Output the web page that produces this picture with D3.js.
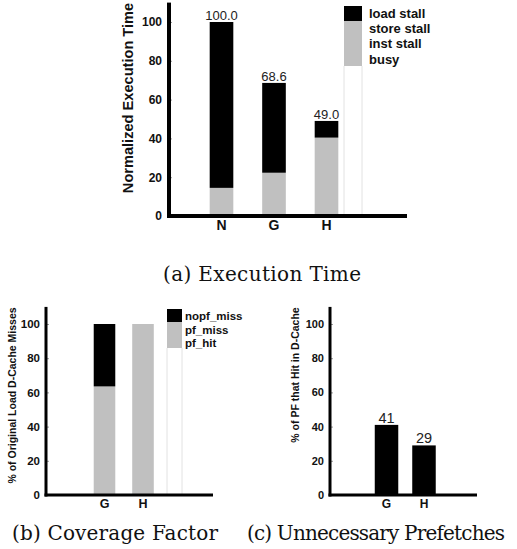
<!DOCTYPE html>
<html lang="en">
<head>
<meta charset="UTF-8">
<title>Execution Time / Coverage / Unnecessary Prefetches</title>
<script src="https://d3js.org/d3.v7.min.js"></script>
<style>
    body { margin: 0; background: #fff; }
    svg { display: block; font-family: "Liberation Sans", Arial, sans-serif; }
    .caption { font-family: "DejaVu Serif", "Liberation Serif", serif; fill: #111; }
</style>
</head>
<body>
<svg id="fig" width="517" height="549"></svg>
<script>
// (a) execution time, normalized
const execCats = ["N", "G", "H"];
const execOther = [14.5, 22.3, 40.4];   // gray part (store + inst + busy)
const execLoad = [85.5, 46.3, 8.6];     // load stall (black)
const execLegend = ["load stall", "store stall", "inst stall", "busy"];

// (b) coverage factor
const covCats = ["G", "H"];
const covHit = [63.5, 100];
const covMiss = [0, 0];
const covNopf = [36.5, 0];
const covLegend = ["nopf_miss", "pf_miss", "pf_hit"];

// (c) unnecessary prefetches
const unnCats = ["G", "H"];
const unnVals = [41, 29];

const yTicks = [0, 20, 40, 60, 80, 100];
const GRAY = "#c0c0c0";

const svg = d3.select("#fig");

function axes(y, x0, x1, tickFont, lineW) {
    const g = svg.append("g").attr("transform", `translate(${x0},0)`);
    g.call(d3.axisLeft(y).tickValues(yTicks).tickSize(-3).tickPadding(lineW + 3))
        .attr("font-family", null)
        .call(a => a.select(".domain").remove())
        .call(a => a.selectAll(".tick line").attr("stroke", "#999"))
        .call(a => a.selectAll(".tick text")
            .style("font-size", tickFont + "px")
            .style("font-weight", "bold")
            .attr("fill", "#111"));
    svg.append("line")
        .attr("x1", x0).attr("x2", x0)
        .attr("y1", y(110)).attr("y2", y(0) + lineW / 2)
        .attr("stroke", "#000").attr("stroke-width", lineW);
    svg.append("line")
        .attr("x1", x0 - lineW / 2).attr("x2", x1)
        .attr("y1", y(0)).attr("y2", y(0))
        .attr("stroke", "#000").attr("stroke-width", lineW);
}

function yTitle(text, cx, cy, size) {
    svg.append("text")
        .attr("transform", `translate(${cx},${cy}) rotate(-90)`)
        .attr("text-anchor", "middle")
        .attr("dominant-baseline", "central")
        .style("font-size", size + "px")
        .style("font-weight", "bold")
        .attr("fill", "#111")
        .text(text);
}

function xLabels(x, cats, y0, size) {
    svg.append("g").selectAll("text")
        .data(cats).join("text")
        .attr("x", d => x(d) + x.bandwidth() / 2)
        .attr("y", y0)
        .attr("text-anchor", "middle")
        .style("font-size", size + "px")
        .style("font-weight", "bold")
        .attr("fill", "#111")
        .text(d => d);
}

function caption(text, x0, x1, yb) {
    svg.append("text").attr("class", "caption")
        .attr("x", x0).attr("y", yb)
        .attr("textLength", x1 - x0).attr("lengthAdjust", "spacing")
        .style("font-size", "20px").text(text);
}

// legend column: stacked swatches, white one runs to baseline
function legendColumn(x0, w, blocks, yBase, labels, lx, ly, step, size) {
    blocks.forEach(b => {
        svg.append("rect")
            .attr("x", x0).attr("y", b.y).attr("width", w)
            .attr("height", b.h).attr("fill", b.c);
    });
    const last = blocks[blocks.length - 1];
    const wy = last.y + last.h;
    svg.append("rect")
        .attr("x", x0).attr("y", wy).attr("width", w)
        .attr("height", yBase - wy).attr("fill", "#fff");
    [x0, x0 + w].forEach(xx => svg.append("line")
        .attr("x1", xx).attr("x2", xx).attr("y1", wy).attr("y2", yBase)
        .attr("stroke", "#e2e2e2").attr("stroke-width", 1));
    svg.append("g").selectAll("text")
        .data(labels).join("text")
        .attr("x", lx)
        .attr("y", (d, i) => ly + i * step)
        .attr("dominant-baseline", "central")
        .style("font-size", size + "px")
        .style("font-weight", "bold")
        .attr("fill", "#111")
        .text(d => d);
}

// ---------- (a) ----------
{
    const y = d3.scaleLinear().domain([0, 110]).range([216, 216 - 110 * 1.94]);
    const x = d3.scaleBand().domain(execCats).range([195.25, 352.75])
        .paddingInner(0.55).paddingOuter(0.275);
    const rows = execCats.map((c, i) => ({ cat: c, other: execOther[i], load: execLoad[i] }));
    const stack = d3.stack().keys(["other", "load"])(rows);
    const colors = { other: GRAY, load: "#000" };

    svg.append("g").selectAll("g")
        .data(stack).join("g")
        .attr("fill", s => colors[s.key])
        .selectAll("rect")
        .data(s => s).join("rect")
        .attr("x", d => x(d.data.cat))
        .attr("width", x.bandwidth())
        .attr("y", d => y(d[1]))
        .attr("height", d => y(d[0]) - y(d[1]));

    svg.append("g").selectAll("text")
        .data(rows).join("text")
        .attr("x", d => x(d.cat) + x.bandwidth() / 2)
        .attr("y", d => y(d.other + d.load) - 2)
        .attr("text-anchor", "middle")
        .style("font-size", "13px")
        .attr("fill", "#222")
        .text(d => d3.format(".1f")(d.other + d.load));

    legendColumn(344, 18, [{ y: 6, h: 15, c: "#000" }, { y: 21, h: 45, c: GRAY }], 214,
        execLegend, 369, 13.5, 15.2, 13);
    axes(y, 169, 407, 12, 4);
    yTitle("Normalized Execution Time", 128, 98, 14.6);
    xLabels(x, execCats, 230, 14);
    caption("(a) Execution Time", 163, 361, 281);
}

// ---------- (b) ----------
{
    const y = d3.scaleLinear().domain([0, 110]).range([495, 495 - 110 * 1.71]);
    const x = d3.scaleBand().domain(covCats).range([85.25, 162.25])
        .paddingInner(0.44).paddingOuter(0.22);
    const rows = covCats.map((c, i) => ({ cat: c, hit: covHit[i], miss: covMiss[i], nopf: covNopf[i] }));
    const stack = d3.stack().keys(["hit", "miss", "nopf"])(rows);
    const colors = { hit: GRAY, miss: GRAY, nopf: "#000" };

    svg.append("g").selectAll("g")
        .data(stack).join("g")
        .attr("fill", s => colors[s.key])
        .selectAll("rect")
        .data(s => s).join("rect")
        .attr("x", d => x(d.data.cat))
        .attr("width", x.bandwidth())
        .attr("y", d => y(d[1]))
        .attr("height", d => y(d[0]) - y(d[1]));

    legendColumn(167, 15, [{ y: 309, h: 13, c: "#000" }, { y: 322, h: 26, c: GRAY }], 494,
        covLegend, 185, 316, 13.5, 11.5);
    axes(y, 46, 213, 11.5, 3);
    yTitle("% of Original Load D-Cache Misses", 12, 395.5, 10.5);
    xLabels(x, covCats, 508, 12.5);
    caption("(b) Coverage Factor", 12, 218, 540);
}

// ---------- (c) ----------
{
    const y = d3.scaleLinear().domain([0, 110]).range([495, 495 - 110 * 1.71]);
    const x = d3.scaleBand().domain(unnCats).range([367.75, 442.75])
        .paddingInner(0.373).paddingOuter(0.187);

    svg.append("g").selectAll("rect")
        .data(unnCats).join("rect")
        .attr("x", d => x(d))
        .attr("width", x.bandwidth())
        .attr("y", (d, i) => y(unnVals[i]))
        .attr("height", (d, i) => y(0) - y(unnVals[i]))
        .attr("fill", "#000");

    svg.append("g").selectAll("text")
        .data(unnCats).join("text")
        .attr("x", d => x(d) + x.bandwidth() / 2)
        .attr("y", (d, i) => y(unnVals[i]) - 2)
        .attr("text-anchor", "middle")
        .style("font-size", "14.5px")
        .attr("fill", "#222")
        .text((d, i) => unnVals[i]);

    axes(y, 330, 477, 11, 3);
    yTitle("% of PF that Hit in D-Cache", 295, 375, 10.5);
    xLabels(x, unnCats, 508, 12);
    caption("(c) Unnecessary Prefetches", 247, 505, 540);
}
</script>
</body>
</html>
